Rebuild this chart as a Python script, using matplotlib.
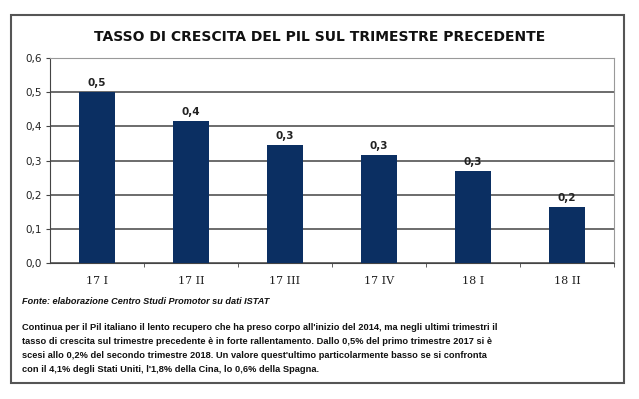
import matplotlib
matplotlib.use("Agg")
import matplotlib.pyplot as plt
from matplotlib.patches import Rectangle

# dati: crescita PIL sul trimestre precedente (%)
trimestri = ["17 I", "17 II", "17 III", "17 IV", "18 I", "18 II"]
valori = [0.50, 0.415, 0.345, 0.315, 0.27, 0.165]
etichette = ["0,5", "0,4", "0,3", "0,3", "0,3", "0,2"]
yticks = [0.0, 0.1, 0.2, 0.3, 0.4, 0.5, 0.6]

titolo = "TASSO DI CRESCITA DEL PIL SUL TRIMESTRE PRECEDENTE"
fonte = "Fonte: elaborazione Centro Studi Promotor su dati ISTAT"
righe = ["Continua per il Pil italiano il lento recupero che ha preso corpo all'inizio del 2014, ma negli ultimi trimestri il",
         "tasso di crescita sul trimestre precedente è in forte rallentamento. Dallo 0,5% del primo trimestre 2017 si è",
         "scesi allo 0,2% del secondo trimestre 2018. Un valore quest'ultimo particolarmente basso se si confronta",
         "con il 4,1% degli Stati Uniti, l'1,8% della Cina, lo 0,6% della Spagna."]

sans = ["Liberation Sans", "DejaVu Sans"]

W, H = 639, 399
fig = plt.figure(figsize=(W / 100, H / 100), dpi=100)

# cornice esterna
fig.patches.append(Rectangle((11 / W, 1 - 383 / H), (624 - 11) / W, (383 - 15) / H,
                             transform=fig.transFigure, fill=False,
                             edgecolor="#555555", linewidth=1.5))

ax = fig.add_axes([50 / W, 1 - 263 / H, (614 - 50) / W, (263 - 58) / H])
x = range(len(trimestri))
bars = ax.bar(x, valori, width=0.39, color="#0b2f62", zorder=3)

for b, lab in zip(bars, etichette):
    ax.text(b.get_x() + b.get_width() / 2, b.get_height() + 0.012, lab,
            ha="center", va="bottom", fontsize=7.5, fontweight="bold", color="#222222")

ax.set_xlim(-0.5, len(trimestri) - 0.5)
ax.set_ylim(0, 0.6)
ax.set_yticks(yticks)
ax.set_yticklabels([f"{v:.1f}".replace(".", ",") for v in yticks], fontsize=7.5, color="#222222")
ax.yaxis.grid(True, color="#444444", linewidth=1.1, zorder=0)
ax.set_xticks(list(x))
ax.set_xticklabels(trimestri, fontsize=8, family="DejaVu Serif", color="#222222")
ax.tick_params(axis="x", length=0, pad=9)
ax.tick_params(axis="y", length=3, color="#444444", pad=3)
# tacche tra le categorie
ax.set_xticks([i + 0.5 for i in range(len(trimestri))], minor=True)
ax.tick_params(axis="x", which="minor", length=3, color="#444444")

ax.spines["left"].set_color("#444444")
ax.spines["bottom"].set_color("#444444")
ax.spines["top"].set_color("#999999")
ax.spines["right"].set_color("#999999")

fig.text(320 / W, 1 - 37 / H, titolo, ha="center", va="center",
         fontsize=10, fontweight="bold", color="#111111")
fig.text(22 / W, 1 - 302 / H, fonte, ha="left", va="center", family=sans,
         fontsize=6.6, fontweight="bold", style="italic", color="#111111")
for i, riga in enumerate(righe):
    fig.text(22 / W, 1 - (327 + 14 * i) / H, riga, ha="left", va="center", family=sans,
             fontsize=6.7, fontweight="bold", color="#111111")

fig.savefig("out.png", dpi=100)
plt.close(fig)
